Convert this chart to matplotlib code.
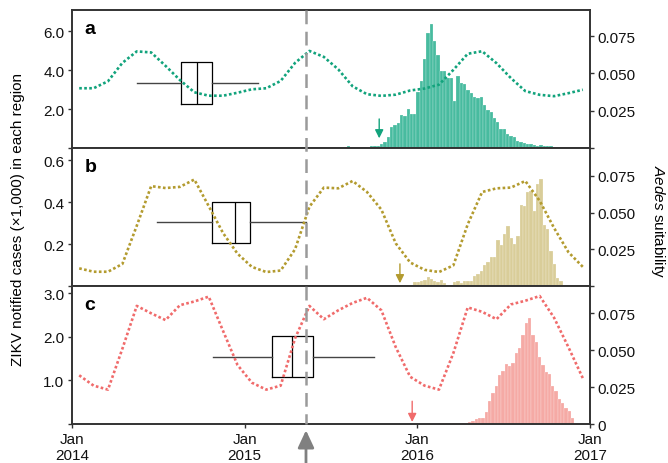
import numpy as np
import matplotlib.pyplot as plt
from matplotlib.lines import Line2D
from matplotlib.transforms import blended_transform_factory

plt.rcParams['font.family'] = ['Liberation Sans', 'DejaVu Sans']
plt.rcParams['mathtext.fontset'] = 'custom'
plt.rcParams['mathtext.it'] = 'Liberation Sans:italic'
plt.rcParams['mathtext.rm'] = 'Liberation Sans'

# --- Aedes suitability, monthly (mid-month), Jan 2014 - Dec 2016 ---
suit_a = [0.040, 0.040, 0.0447, 0.057, 0.0647, 0.064, 0.055, 0.0455, 0.0373, 0.035, 0.035, 0.037,
          0.0393, 0.040, 0.0449, 0.057, 0.065, 0.061, 0.0527, 0.0413, 0.036, 0.0349, 0.0357, 0.0385,
          0.0398, 0.0424, 0.0523, 0.0631, 0.0648, 0.0568, 0.0468, 0.0381, 0.0356, 0.0347, 0.0367, 0.039]
suit_b = [0.012, 0.0097, 0.0097, 0.015, 0.041, 0.068, 0.0667, 0.0675, 0.0725, 0.0544, 0.036, 0.022,
          0.013, 0.0095, 0.0105, 0.025, 0.054, 0.067, 0.0665, 0.0715, 0.064, 0.052, 0.029, 0.016,
          0.011, 0.0095, 0.014, 0.042, 0.064, 0.0665, 0.067, 0.0715, 0.058, 0.0395, 0.023, 0.013]
suit_c = [0.033, 0.026, 0.0233, 0.051, 0.080, 0.075, 0.0704, 0.0805, 0.083, 0.0863, 0.063, 0.040,
          0.028, 0.0233, 0.026, 0.058, 0.080, 0.071, 0.077, 0.082, 0.0855, 0.077, 0.052, 0.032,
          0.026, 0.0233, 0.048, 0.079, 0.076, 0.071, 0.081, 0.0835, 0.0867, 0.072, 0.052, 0.031]

# --- weekly ZIKV notified cases (x1,000) ---
start_a = 2015.591
cases_a = [0.08, 0.02, 0.02, 0.02, 0.03, 0.04, 0.07, 0.12, 0.12, 0.12,
           0.20, 0.33, 0.55, 1.10, 1.20, 1.30, 1.68, 1.63, 2.00, 1.73,
           1.73, 2.90, 3.43, 4.59, 5.89, 6.37, 5.50, 4.80, 3.97, 3.97,
           3.58, 3.58, 2.42, 3.72, 3.34, 3.29, 3.00, 2.82, 2.61, 2.56,
           2.61, 2.20, 1.94, 1.84, 1.52, 1.32, 0.95, 0.95, 0.74, 0.60,
           0.54, 0.38, 0.33, 0.28, 0.22, 0.22, 0.17, 0.12, 0.17, 0.12,
           0.12, 0.12, 0.07, 0.07]
start_b = 2015.880
cases_b = [0.005, 0.005, 0.005, 0.005, 0.005, 0.019, 0.019, 0.024, 0.029, 0.043,
           0.034, 0.024, 0.019, 0.029, 0.014, 0.005, 0.005, 0.019, 0.024, 0.014,
           0.024, 0.024, 0.024, 0.048, 0.058, 0.072, 0.101, 0.115, 0.139, 0.139,
           0.22, 0.197, 0.25, 0.288, 0.23, 0.201, 0.24, 0.388, 0.384, 0.451,
           0.456, 0.36, 0.489, 0.513, 0.293, 0.273, 0.168, 0.106, 0.038, 0.024]
start_c = 2016.044
cases_c = [0.01, 0.01, 0.01, 0.01, 0.03, 0.03, 0.03, 0.03, 0.03, 0.03,
           0.03, 0.03, 0.03, 0.05, 0.076, 0.12, 0.145, 0.145, 0.28, 0.53,
           0.715, 0.875, 1.126, 1.218, 1.378, 1.33, 1.40, 1.63, 1.74, 2.04,
           2.31, 2.43, 2.04, 1.88, 1.54, 1.35, 1.19, 1.15, 0.875, 0.76,
           0.58, 0.487, 0.37, 0.30, 0.145]

# --- box plots (dates, decimal years): whislo, q1, median, q3, whishi ---
box_a = [2014.376, 2014.631, 2014.724, 2014.811, 2015.077]
box_b = [2014.492, 2014.811, 2014.944, 2015.031, 2015.355]
box_c = [2014.815, 2015.160, 2015.272, 2015.397, 2015.750]

# first notified case arrows
arrow_a = 2015.779
arrow_b = 2015.899
arrow_c = 2015.970

# dashed vertical line (date)
x_dash = 2015.355

year_ticks = [2014, 2015, 2016, 2017]
year_labels = ['Jan\n2014', 'Jan\n2015', 'Jan\n2016', 'Jan\n2017']
months = 2014 + (np.arange(36) + 0.5) / 12

panels = [
    dict(letter='a', suit=suit_a, cases=cases_a, start=start_a, box=box_a, box_y=3.33, box_h=2.18,
         arrow=arrow_a, arr_y=(0.07, 0.21), bar='#48bb9f', line='#12a37c', ymax=7.1,
         yt=[0, 2, 4, 6], yl=['', '2.0', '4.0', '6.0'], smax=0.0925, szero=''),
    dict(letter='b', suit=suit_b, cases=cases_b, start=start_b, box=box_b, box_y=0.305, box_h=0.196,
         arrow=arrow_b, arr_y=(0.02, 0.16), bar='#d9cd99', line='#b39b2f', ymax=0.66,
         yt=[0, 0.2, 0.4, 0.6], yl=['', '0.2', '0.4', '0.6'], smax=0.094, szero=''),
    dict(letter='c', suit=suit_c, cases=cases_c, start=start_c, box=box_c, box_y=1.545, box_h=0.94,
         arrow=arrow_c, arr_y=(0.015, 0.165), bar='#f5aaa5', line='#f06b6b', ymax=3.17,
         yt=[0, 1, 2, 3], yl=['', '1.0', '2.0', '3.0'], smax=0.0935, szero='0'),
]

fig = plt.figure(figsize=(6.68, 4.64), dpi=100)
left, width = 0.1078, 0.7755
h = 0.2975
bottoms = [0.084 + 2 * h, 0.084 + h, 0.084]
axes = []

for p, b in zip(panels, bottoms):
    ax = fig.add_axes([left, b, width, h])
    ax2 = ax.twinx()
    axes.append(ax)

    weeks = p['start'] + np.arange(len(p['cases'])) / 52
    ax.bar(weeks, p['cases'], width=1 / 52, align='edge', color=p['bar'],
           edgecolor='white', linewidth=0.15, zorder=2)

    w = p['box']
    stats = [dict(whislo=w[0], q1=w[1], med=w[2], q3=w[3], whishi=w[4], fliers=[])]
    ax.bxp(stats, positions=[p['box_y']], widths=[p['box_h']], orientation='horizontal',
           showfliers=False, showcaps=False, manage_ticks=False,
           boxprops=dict(color='black', lw=0.9), whiskerprops=dict(color='#444444', lw=1.0),
           medianprops=dict(color='black', lw=0.9), zorder=3)

    ax.annotate('', xy=(p['arrow'], p['arr_y'][0]), xycoords=('data', 'axes fraction'),
                xytext=(p['arrow'], p['arr_y'][1]), textcoords=('data', 'axes fraction'),
                arrowprops=dict(arrowstyle='-|>,head_width=0.25,head_length=0.5',
                                color=p['line'], lw=1.0, shrinkA=0, shrinkB=0))

    ax2.plot(months, p['suit'], color=p['line'], lw=1.9, linestyle=(0, (1, 0.9)),
             dash_capstyle='butt')

    ax.set_xlim(2014, 2017)
    ax.set_ylim(0, p['ymax'])
    ax2.set_ylim(0, p['smax'])
    ax.set_yticks(p['yt'])
    ax.set_yticklabels(p['yl'])
    ax2.set_yticks([0, 0.025, 0.05, 0.075])
    ax2.set_yticklabels([p['szero'], '0.025', '0.050', '0.075'])

    for a in (ax, ax2):
        for s in a.spines.values():
            s.set_color('#333333')
            s.set_linewidth(1.2)
        a.tick_params(direction='out', length=3, width=1, labelsize=11, pad=2.5,
                      color='#333333', labelcolor='#111111')

    ax.text(0.035, 0.865, p['letter'], transform=ax.transAxes, fontsize=14,
            fontweight='bold', ha='center', va='center')

    if p['letter'] != 'c':
        ax.tick_params(axis='x', bottom=False, labelbottom=False)
    else:
        ax.set_xticks(year_ticks)
        ax.set_xticklabels(year_labels)

ax_a, ax_b, ax_c = axes

# dashed line across all panels
trans = blended_transform_factory(ax_c.transData, fig.transFigure)
fig.add_artist(Line2D([x_dash, x_dash], [0.084 + 3 * h, 0.084], transform=trans,
                      color='#9a9a9a', lw=1.8, linestyle=(0, (5.5, 3))))

# arrow under the time axis
ax_c.annotate('', xy=(x_dash, -0.045), xycoords=('data', 'axes fraction'),
              xytext=(x_dash, -0.4), textcoords=('data', 'axes fraction'),
              arrowprops=dict(arrowstyle='-|>,head_width=0.35,head_length=0.75',
                              color='#808080', lw=2, mutation_scale=14, shrinkA=0, shrinkB=0),
              annotation_clip=False)

fig.text(0.027, 0.527, 'ZIKV notified cases (\u00d71,000) in each region', rotation=90,
         ha='center', va='center', fontsize=11)
fig.text(0.985, 0.523, r'$\it{Aedes}$ suitability', rotation=270,
         ha='center', va='center', fontsize=11)

fig.savefig('out.png', dpi=100)
